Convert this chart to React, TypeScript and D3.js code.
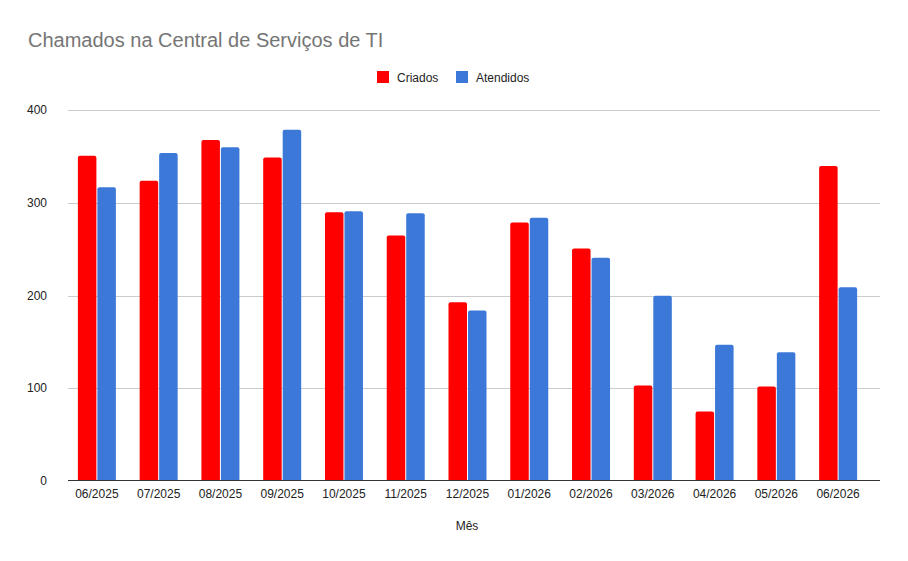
import React from "react";
import * as d3 from "d3";

const months = [
  "06/2025", "07/2025", "08/2025", "09/2025", "10/2025", "11/2025", "12/2025",
  "01/2026", "02/2026", "03/2026", "04/2026", "05/2026", "06/2026",
];
const criados = [351, 324, 368, 349, 290, 265, 193, 279, 251, 103, 75, 102, 340];
const atendidos = [317, 354, 360, 379, 291, 289, 184, 284, 241, 200, 147, 139, 209];
const yTicks = [0, 100, 200, 300, 400];
const seriesNames = ["Criados", "Atendidos"];
const colors = ["#ff0000", "#3c78d8"];

const W = 908;
const H = 561;
const plot = { left: 68, right: 880, top: 110, bottom: 481 };

export default function App() {
  const x = d3.scaleBand<string>().domain(months).range([66, 869]);
  const y = d3.scaleLinear().domain([0, 400]).range([plot.bottom, plot.top + 0.3]);
  const inner = d3.scaleBand<number>().domain([0, 1]).range([0, 38]).paddingInner(0.05);
  const groupOffset = (x.bandwidth() - 38) / 2;
  const series = [criados, atendidos];
  const font = "Arial, 'Liberation Sans', sans-serif";

  const barPath = (x0: number, w: number, top: number, bottom: number) => {
    const r = Math.min(2, (bottom - top) / 2);
    return `M${x0},${bottom}V${top + r}Q${x0},${top} ${x0 + r},${top}H${x0 + w - r}Q${x0 + w},${top} ${x0 + w},${top + r}V${bottom}Z`;
  };

  return (
    <svg width={W} height={H} style={{ position: "absolute", left: 0, top: 0, background: "#fff" }} fontFamily={font}>
      <rect width={W} height={H} fill="#fff" />
      <text x={28} y={47} fontSize={20} fill="#757575">Chamados na Central de Serviços de TI</text>

      {/* legend */}
      <g fontSize={12} fill="#222">
        <rect x={377} y={71} width={12} height={12} fill={colors[0]} />
        <text x={397} y={81.5}>{seriesNames[0]}</text>
        <rect x={456} y={71} width={12} height={12} fill={colors[1]} />
        <text x={476} y={81.5}>{seriesNames[1]}</text>
      </g>

      {/* gridlines and y labels */}
      {yTicks.map((t) => (
        <g key={t}>
          {t > 0 && (
            <line x1={plot.left} x2={plot.right} y1={Math.round(y(t)) + 0.5} y2={Math.round(y(t)) + 0.5} stroke="#cccccc" />
          )}
          <text x={47} y={y(t) + 4} textAnchor="end" fontSize={12} fill="#222">{t}</text>
        </g>
      ))}

      {/* bars */}
      {months.map((m, i) => (
        <g key={m}>
          {series.map((vals, s) => {
            const bx = (x(m) ?? 0) + groupOffset + (inner(s) ?? 0);
            return (
              <path key={s} d={barPath(bx, inner.bandwidth(), y(vals[i]), y(0))} fill={colors[s]} />
            );
          })}
          <text x={(x(m) ?? 0) + x.bandwidth() / 2} y={498} textAnchor="middle" fontSize={12} fill="#222">{m}</text>
        </g>
      ))}

      <line x1={plot.left} x2={plot.right} y1={480.5} y2={480.5} stroke="#333" />

      <text x={467} y={530} textAnchor="middle" fontSize={12} fill="#222">Mês</text>
    </svg>
  );
}
